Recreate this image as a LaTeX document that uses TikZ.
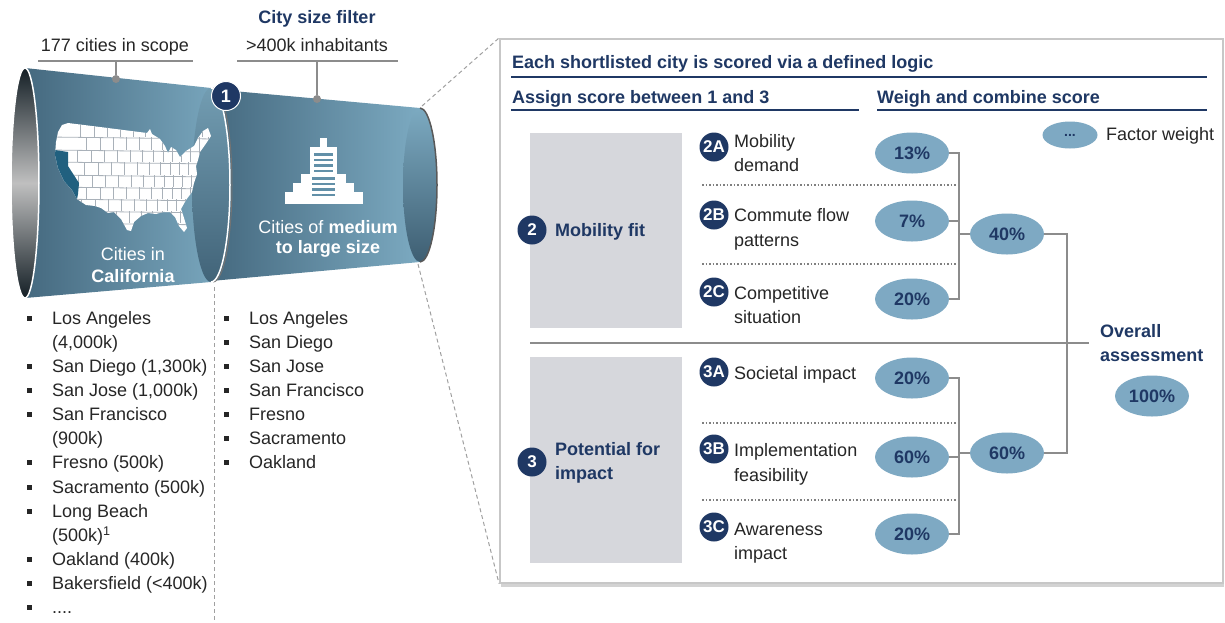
\documentclass[tikz,border=0pt]{standalone}
\usepackage{fontspec}
\setmainfont{Liberation Sans}
\usetikzlibrary{shadows,shapes.geometric}
\definecolor{navy}{HTML}{1F3864}
\definecolor{txt}{HTML}{262626}
\definecolor{boxgray}{HTML}{D6D7DC}
\definecolor{ellblue}{HTML}{7EA9C3}
\definecolor{lgray}{HTML}{8C8C8C}
\definecolor{dgray}{HTML}{A0A0A0}
\definecolor{cylL}{HTML}{45697F}
\definecolor{cylR}{HTML}{7CAAC1}
\definecolor{stripe}{HTML}{6290A8}
\definecolor{cal}{HTML}{21607F}
\definecolor{stateline}{HTML}{A9B1B9}
\tikzset{
  base/.style={font=\fontsize{18}{24}\selectfont, text=txt, inner sep=0pt},
  head/.style={base, font=\fontsize{18}{24}\selectfont\bfseries, text=navy},
  item/.style={base, anchor=base west},
  badge/.style={circle, fill=navy, text=white, font=\fontsize{17}{17}\selectfont\bfseries, minimum size=29pt, inner sep=0pt},
  wt/.style={ellipse, fill=ellblue, text=navy, font=\fontsize{18}{18}\selectfont\bfseries, minimum width=74pt, minimum height=41pt, inner sep=0pt},
  conn/.style={draw=lgray, line width=2pt},
  sepdots/.style={draw=gray, dotted, line width=1.5pt},
  bul/.style={fill=txt, minimum size=5pt, inner sep=0pt},
  pin/.style={circle, fill=lgray, minimum size=8pt, inner sep=0pt},
  thinline/.style={draw=lgray, line width=1.5pt},
  zoomline/.style={draw=dgray, line width=1pt, dash pattern=on 4pt off 3pt},
  ulinenavy/.style={draw=navy, line width=1.5pt},
}
\begin{document}
\begin{tikzpicture}[x=1pt,y=-1pt]
\useasboundingbox (0,0) rectangle (1225,622);

% ---------- labels above funnel ----------
\node[head, anchor=base] (filt) at (317,23.5) {City size filter};
\node[base, anchor=base] (scope) at (115,51.5) {177 cities in scope};
\node[base, anchor=base] (inh) at (317,51.5) {>400k inhabitants};
\coordinate (l1a) at (38,61); \coordinate (l1b) at (193,61); \coordinate (l1m) at (116,61);
\coordinate (l2a) at (237,61); \coordinate (l2b) at (398,61); \coordinate (l2m) at (317,61);
\draw[thinline] (l1a) -- (l1b);
\draw[thinline] (l2a) -- (l2b);

% ---------- cylinder 2 ----------
\shade[left color=cylL, right color=cylR] (211,89) -- (420,108) -- (420,262) -- (211,281) -- cycle;
\shade[top color=cylR, bottom color=cylL!90!black] (420,185) ellipse [x radius=17, y radius=77];
\draw[draw=black!65, line width=1.5pt] (420,108) arc[start angle=-90, end angle=90, x radius=17, y radius=77];
\coordinate (c2t) at (422,106);
\coordinate (c2b) at (418,264);

% building icon
\fill[white] (320,138) rectangle (327,148);
\fill[white] (310,147) rectangle (337,176);
\fill[white] (301,174) rectangle (346,204);
\fill[white] (293,183) rectangle (354,204);
\fill[white] (285,192) rectangle (363,204);
\foreach \yy in {153,158.5,164,169.5} \fill[stripe] (314,\yy) rectangle (333,\yy+2.5);
\foreach \yy in {177,182.5,188,193.5} \fill[stripe] (312,\yy) rectangle (335,\yy+2.5);
\node[base, text=white, anchor=base] (c2a) at (328,233.5) {Cities of \textbf{medium}};
\node[base, text=white, anchor=base, font=\fontsize{18}{24}\selectfont\bfseries] (c2l) at (328,253.5) {to large size};

% ---------- cylinder 1 ----------
\shade[left color=cylL, right color=cylR] (25,68) -- (211,88) arc[start angle=-90, end angle=90, x radius=19, y radius=97] -- (25,298) -- cycle;
\shade[top color=cylR!92!black, bottom color=cylL!95!black] (211,185) ellipse [x radius=19, y radius=97];
\draw[draw=black!55, line width=1pt] (213,88) arc[start angle=-90, end angle=90, x radius=19, y radius=97];
\draw[white, line width=1.5pt] (211,88) arc[start angle=-90, end angle=90, x radius=19, y radius=97];
\shade[top color=black!70!cylL, bottom color=black!70!cylL, middle color=black!25!white] (25,183) ellipse [x radius=14, y radius=115];
\draw[white, line width=1.5pt] (25,183) ellipse [x radius=14, y radius=115];

% US map
\begin{scope}
\path[clip] (68,123) -- (100,127) -- (147,133) -- (150,129) -- (152,134) -- (160,139) -- (165,146) -- (168,153) -- (171,147) -- (176,150) -- (180,157) -- (186,151) -- (194,146) -- (198,138) -- (203,131) -- (208,128) -- (211,136) -- (205,145) -- (200,152) -- (198,160) -- (196,166) -- (197,174) -- (194,183) -- (192,192) -- (186,200) -- (181,209) -- (184,218) -- (187,228) -- (184,232) -- (179,226) -- (175,217) -- (170,212) -- (163,212) -- (156,214) -- (148,213) -- (141,216) -- (134,222) -- (131,231) -- (127,230) -- (121,219) -- (114,212) -- (108,213) -- (101,208) -- (95,206) -- (86,205) -- (77,199) -- (72,190) -- (64,181) -- (58,168) -- (55,155) -- (56,142) -- (58,132) -- (62,125) -- cycle;
\fill[white] (50,118) rectangle (215,236);
\foreach \ya/\yb/\off in {118/137/0, 137/150/6, 150/162/-3, 162/175/4, 175/187/-2, 187/199/6, 199/211/1, 211/223/-4, 223/236/3}{
  \draw[stateline, line width=0.8pt] (50,\yb) -- (215,\yb+2);
  \foreach \xx in {80,94,107,120,133,145,156,166,175,184,193,202} \draw[stateline, line width=0.8pt] (\xx+\off,\ya) -- (\xx+\off,\yb);
}
\fill[cal] (55,150) -- (68,152) -- (68,166) -- (79,183) -- (78,194) -- (77,199) -- (72,190) -- (64,181) -- (58,168) -- (55,155) -- cycle;
\end{scope}
\node[base, text=white, anchor=base] (c1a) at (133,260.5) {Cities in};
\node[base, text=white, anchor=base, font=\fontsize{18}{24}\selectfont\bfseries] (c1b) at (133,282.5) {California};

% pins
\node[pin] (p1) at (116,79) {};
\node[pin] (p2) at (317,99) {};
\draw[thinline] (l1m) -- (p1);
\draw[thinline] (l2m) -- (p2);
\node[badge, draw=white, line width=1pt, font=\fontsize{18}{18}\selectfont\bfseries] (b1) at (226,96) {1};

% ---------- lists ----------
\coordinate (vd1) at (214,287); \coordinate (vd2) at (214,622);
\draw[zoomline] (vd1) -- (vd2);
\foreach \y/\b/\t [count=\i] in {318/1/{Los Angeles}, 342/0/{(4,000k)}, 366/1/{San Diego (1,300k)}, 390/1/{San Jose (1,000k)}, 414/1/{San Francisco}, 438/0/{(900k)}, 462/1/{Fresno (500k)}, 487/1/{Sacramento (500k)}, 511/1/{Long Beach}, 535/0/{(500k)\textsuperscript{1}}, 559/1/{Oakland (400k)}, 583/1/{Bakersfield (<400k)}, 607/1/{....}}{
  \node[item] (L\i) at (52,\y+6.5) {\t};
  \ifnum\b=1 \node[bul] (LB\i) at (29,\y) {};\fi
}
\foreach \y/\t [count=\i] in {318/{Los Angeles}, 342/{San Diego}, 366/{San Jose}, 390/{San Francisco}, 414/{Fresno}, 438/{Sacramento}, 462/{Oakland}}{
  \node[item] (R\i) at (249,\y+6.5) {\t};
  \node[bul] (RB\i) at (226,\y) {};
}

% ---------- panel ----------
\node[draw=black!22, line width=1.5pt, fill=white, drop shadow={shadow xshift=1pt, shadow yshift=-4pt, opacity=0.35}, minimum width=723pt, minimum height=544pt, inner sep=0pt, anchor=north west] (panel) at (499,38) {};
\draw[zoomline] (c2t) -- (panel.north west);
\draw[zoomline] (c2b) -- (panel.south west);

\node[head, anchor=base west] (h1) at (512,68.5) {Each shortlisted city is scored via a defined logic};
\node[head, anchor=base west] (h2) at (512,103.5) {Assign score between 1 and 3};
\node[head, anchor=base west] (h3) at (877,103.5) {Weigh and combine score};
\coordinate (u1a) at (511,77); \coordinate (u1b) at (1207,77);
\coordinate (u2a) at (511,110); \coordinate (u2b) at (859,110);
\coordinate (u3a) at (877,110); \coordinate (u3b) at (1207,110);
\draw[ulinenavy] (u1a) -- (u1b);
\draw[ulinenavy] (u2a) -- (u2b);
\draw[ulinenavy] (u3a) -- (u3b);

\node[fill=boxgray, minimum width=152pt, minimum height=195pt, inner sep=0pt, anchor=north west] (g2) at (530,133) {};
\node[fill=boxgray, minimum width=152pt, minimum height=206pt, inner sep=0pt, anchor=north west] (g3) at (530,357) {};
\node[badge] (b2) at (532,230) {2};
\node[badge] (b3) at (532,462) {3};
\node[head, anchor=base west] (m2) at (555,236.5) {Mobility fit};
\node[head, anchor=base west] (m3a) at (555,455.5) {Potential for};
\node[head, anchor=base west] (m3b) at (555,479.5) {impact};

% sub-factors
\node[badge] (b2a) at (714,147) {2A};
\node[badge] (b2b) at (714,215) {2B};
\node[badge] (b2c) at (714,292) {2C};
\node[badge] (b3a) at (714,372) {3A};
\node[badge] (b3b) at (714,449) {3B};
\node[badge] (b3c) at (714,527) {3C};
\foreach \n/\y/\t in {t2a1/141/Mobility, t2a2/165/demand, t2b1/215/{Commute flow}, t2b2/240/patterns, t2c1/293/Competitive, t2c2/317/situation, t3a1/373/{Societal impact}, t3b1/450/Implementation, t3b2/475/feasibility, t3c1/529/Awareness, t3c2/553/impact}
  \node[item] (\n) at (734,\y+6.5) {\t};

\coordinate (d1a) at (702,185); \coordinate (d1b) at (956,185);
\coordinate (d2a) at (702,264); \coordinate (d2b) at (956,264);
\coordinate (d3a) at (702,423); \coordinate (d3b) at (956,423);
\coordinate (d4a) at (702,500); \coordinate (d4b) at (956,500);
\draw[sepdots] (d1a) -- (d1b);
\draw[sepdots] (d2a) -- (d2b);
\draw[sepdots] (d3a) -- (d3b);
\draw[sepdots] (d4a) -- (d4b);

% weights
\node[wt] (w2a) at (912,153) {13\%};
\node[wt] (w2b) at (912,221) {7\%};
\node[wt] (w2c) at (912,299) {20\%};
\node[wt] (w2) at (1007,234) {40\%};
\node[wt] (w3a) at (912,378) {20\%};
\node[wt] (w3b) at (912,457) {60\%};
\node[wt] (w3c) at (912,534) {20\%};
\node[wt] (w3) at (1007,453) {60\%};
\node[wt] (wall) at (1152,396) {100\%};
\node[wt, minimum width=55pt, minimum height=27pt, font=\fontsize{14}{14}\selectfont\bfseries] (wleg) at (1070,135) {...};
\node[item] (fw) at (1106,140.5) {Factor weight};

\coordinate (j2) at (959,234);
\coordinate (j3) at (959,453);
\coordinate (jall) at (1067,343);
\coordinate (ostub) at (1089,343);
\coordinate (sepl) at (530,343);
\draw[conn] (w2a.east) -| (j2);
\draw[conn] (w2b.east) -| (j2);
\draw[conn] (w2c.east) -| (j2);
\draw[conn] (j2) -- (w2.west);
\draw[conn] (w3a.east) -| (j3);
\draw[conn] (w3b.east) -| (j3);
\draw[conn] (w3c.east) -| (j3);
\draw[conn] (j3) -- (w3.west);
\draw[conn] (w2.east) -| (jall);
\draw[conn] (w3.east) -| (jall);
\draw[conn] (jall) -- (ostub);
\draw[draw=lgray, line width=1.5pt] (sepl) -- (jall);
\node[head, anchor=base west] (ov1) at (1100,337.5) {Overall};
\node[head, anchor=base west] (ov2) at (1100,361.5) {assessment};
\end{tikzpicture}
\end{document}
